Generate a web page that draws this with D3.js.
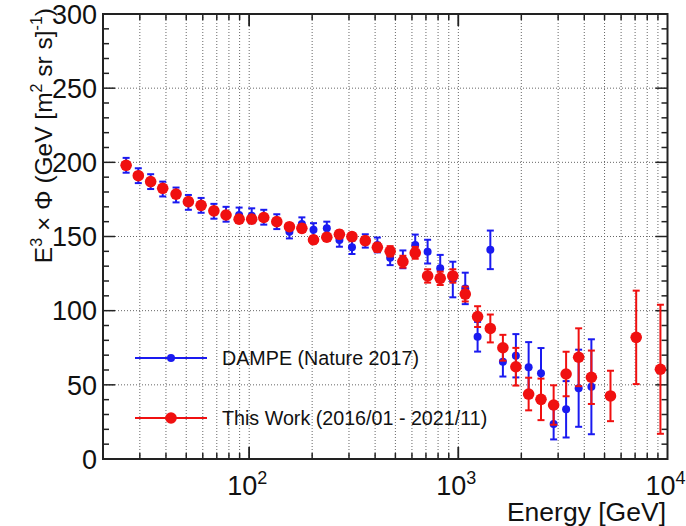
<!DOCTYPE html>
<html>
<head>
<meta charset="utf-8">
<script src="https://cdn.jsdelivr.net/npm/d3@7"></script>
<style>
  html, body { margin: 0; padding: 0; background: #fff; }
  svg { display: block; }
  text { font-family: "Liberation Sans", Arial, Helvetica, sans-serif; fill: #111; }
</style>
</head>
<body>
<svg id="chart" width="686" height="526"></svg>
<script>
// ---- Data ----
const redEnergy = [25.8, 29.5, 33.8, 38.6, 44.7, 51.2, 58.9, 67.8, 77.5, 89.5,
  102.8, 117.4, 135.5, 155.7, 178.6, 203, 235, 270, 310, 359,
  410, 472, 543, 622, 713, 819, 941, 1079, 1236, 1422,
  1633, 1884, 2168, 2484, 2855, 3275, 3760, 4326, 5338, 7085, 9250];
const redValue = [198, 191, 187, 182.5, 178.6, 173.5, 171, 167.3, 164.5, 161.7,
  161.7, 162.8, 160, 156.6, 155.5, 147.8, 149.5, 151.5, 149.9, 147.2,
  142.7, 140, 133, 139, 123.4, 121.8, 123.4, 111.2, 96, 88,
  75, 62.2, 43.8, 40.2, 36.4, 57.3, 68.6, 55.1, 42.5, 82, 60.5];
const redError = [2, 2, 2, 2, 2, 2, 2, 2, 2, 2,
  2, 2, 2, 2, 2.5, 2.5, 2.5, 2.5, 2.5, 2.5,
  3, 3.5, 4, 4, 4.5, 4.5, 4.5, 5, 7, 9.4,
  8.7, 12.7, 11, 14, 13.3, 15, 19.5, 18, 17, 31.5, 43.5];

const blueEnergy = [25.8, 29.5, 33.8, 38.6, 44.7, 51.2, 58.9, 67.8, 77.5, 89.5,
  102.8, 117.4, 135.5, 155.7, 178.6, 203, 235, 270, 310, 359,
  410, 472, 543, 622, 713, 819, 941, 1079, 1236, 1422,
  1633, 1884, 2168, 2484, 2855, 3275, 3760, 4326];
const blueValue = [198, 191, 187, 182, 178, 173, 171, 167, 165, 164.5,
  164, 163, 160, 153.2, 158.4, 154.5, 155.5, 147.6, 142.7, 147,
  144.3, 135.7, 134.6, 144.3, 139.8, 128.6, 121, 115, 82.4, 141,
  65.6, 69.6, 61.8, 57.8, 23.6, 33.5, 47.7, 48.7];
const blueError = [5, 5, 5, 5, 5, 5, 5, 5, 5, 5,
  5, 5, 5, 4.5, 4.5, 4.5, 4.5, 4.5, 4.5, 4.5,
  5, 5, 6, 7, 8, 9, 12, 10.6, 10, 13,
  10, 14.6, 17, 17, 10.4, 19, 26, 32];

const yTicks = [0, 50, 100, 150, 200, 250, 300];
const xDecades = [100, 1000, 10000];
const xDecadeExp = ["2", "3", "4"];
const legendLabels = ["DAMPE (Nature 2017)", "This Work (2016/01 - 2021/11)"];

// ---- Layout ----
const svg = d3.select("#chart");
const L = 103, R = 667.5, T = 14, B = 459;
const x = d3.scaleLog().domain([20, 10000]).range([L, R]);
const y = d3.scaleLinear().domain([0, 300]).range([B, T]);

const BLUE = "#1a1af0", RED = "#f01010";

// grid
const minorX = [];
for (let d = 10; d <= 1000; d *= 10) for (let k = 1; k <= 9; k++) { const v = k * d; if (v > 20 && v < 10000) minorX.push(v); }
const grid = svg.append("g");
grid.selectAll("line.vx").data(minorX).join("line")
  .attr("x1", d => x(d)).attr("x2", d => x(d)).attr("y1", T).attr("y2", B)
  .attr("stroke", "#666").attr("stroke-width", 1).attr("stroke-dasharray", "1,2");
grid.selectAll("line.hy").data(yTicks.filter(v => v > 0 && v < 300)).join("line")
  .attr("x1", L).attr("x2", R).attr("y1", d => y(d)).attr("y2", d => y(d))
  .attr("stroke", "#666").attr("stroke-width", 1).attr("stroke-dasharray", "1,2");

// axes ticks (inside, mirrored)
const axes = svg.append("g").attr("stroke", "#222").attr("stroke-width", 1.5);
const yMinor = d3.range(0, 301, 10);
yMinor.forEach(v => {
  const len = v % 50 === 0 ? 12 : 6;
  axes.append("line").attr("x1", L).attr("x2", L + len).attr("y1", y(v)).attr("y2", y(v));
  axes.append("line").attr("x1", R).attr("x2", R - len).attr("y1", y(v)).attr("y2", y(v));
});
const allX = minorX.concat([100, 1000]);
allX.forEach(v => {
  const len = (v === 100 || v === 1000) ? 12 : 6;
  axes.append("line").attr("x1", x(v)).attr("x2", x(v)).attr("y1", B).attr("y2", B - len);
  axes.append("line").attr("x1", x(v)).attr("x2", x(v)).attr("y1", T).attr("y2", T + len);
});

// data series
function drawSeries(E, V, Err, color, r, capW, sw) {
  const g = svg.append("g");
  const data = E.map((e, i) => ({ e, v: V[i], err: Err[i] }));
  g.selectAll("line.bar").data(data).join("line")
    .attr("x1", d => x(d.e)).attr("x2", d => x(d.e))
    .attr("y1", d => y(d.v - d.err)).attr("y2", d => y(d.v + d.err))
    .attr("stroke", color).attr("stroke-width", sw);
  g.selectAll("line.cap1").data(data).join("line")
    .attr("x1", d => x(d.e) - capW).attr("x2", d => x(d.e) + capW)
    .attr("y1", d => y(d.v + d.err)).attr("y2", d => y(d.v + d.err))
    .attr("stroke", color).attr("stroke-width", sw);
  g.selectAll("line.cap2").data(data).join("line")
    .attr("x1", d => x(d.e) - capW).attr("x2", d => x(d.e) + capW)
    .attr("y1", d => y(d.v - d.err)).attr("y2", d => y(d.v - d.err))
    .attr("stroke", color).attr("stroke-width", sw);
  g.selectAll("circle").data(data).join("circle")
    .attr("cx", d => x(d.e)).attr("cy", d => y(d.v)).attr("r", r)
    .attr("fill", color);
}
drawSeries(blueEnergy, blueValue, blueError, BLUE, 4, 3.5, 2);
drawSeries(redEnergy, redValue, redError, RED, 5.8, 3.5, 2);

// frame
svg.append("rect").attr("x", L).attr("y", T).attr("width", R - L).attr("height", B - T)
  .attr("fill", "none").attr("stroke", "#222").attr("stroke-width", 2);

// y tick labels
svg.append("g").selectAll("text").data(yTicks).join("text")
  .attr("x", 97).attr("y", d => y(d)).attr("dy", "0.36em")
  .attr("text-anchor", "end").attr("font-size", 27).text(d => d);

// x tick labels
const xl = svg.append("g");
xDecades.forEach((d, i) => {
  const t = xl.append("text").attr("x", x(d) - 2).attr("y", 495)
    .attr("text-anchor", "middle").attr("font-size", 27);
  t.append("tspan").text("10");
  t.append("tspan").attr("dy", -11).attr("font-size", 18).text(xDecadeExp[i]);
});

// axis titles
svg.append("text").attr("x", 666).attr("y", 521).attr("text-anchor", "end")
  .attr("font-size", 26.5).text("Energy [GeV]");

const yt = svg.append("text").attr("transform", "translate(52,8) rotate(-90)")
  .attr("text-anchor", "end").attr("font-size", 24.5);
yt.append("tspan").text("E");
yt.append("tspan").attr("dy", -10).attr("font-size", 16).text("3");
yt.append("tspan").attr("dy", 10).text(" \u00D7 \u03A6 (GeV [m");
yt.append("tspan").attr("dy", -10).attr("font-size", 16).text("2");
yt.append("tspan").attr("dy", 10).text(" sr s]");
yt.append("tspan").attr("dy", -10).attr("font-size", 16).text("-1");
yt.append("tspan").attr("dy", 10).text(")");

// legend
const leg = svg.append("g");
const legY = [358, 418], legColors = [BLUE, RED], legR = [4, 5.8];
legendLabels.forEach((lab, i) => {
  leg.append("line").attr("x1", 135).attr("x2", 207).attr("y1", legY[i]).attr("y2", legY[i])
    .attr("stroke", legColors[i]).attr("stroke-width", 2);
  leg.append("circle").attr("cx", 171).attr("cy", legY[i]).attr("r", legR[i]).attr("fill", legColors[i]);
  leg.append("text").attr("x", 222).attr("y", legY[i]).attr("dy", "0.36em")
    .attr("font-size", 19.7).text(lab);
});
</script>
</body>
</html>
